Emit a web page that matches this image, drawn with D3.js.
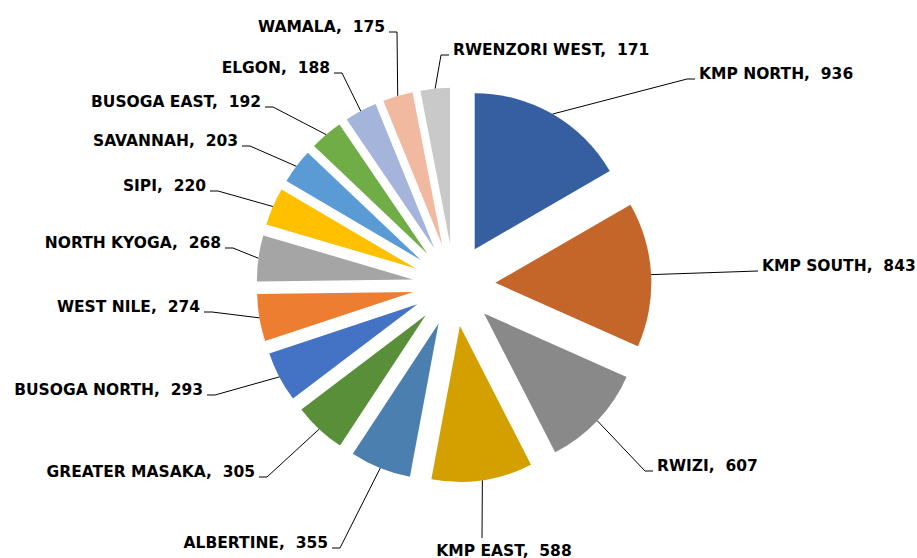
<!DOCTYPE html>
<html>
<head>
<meta charset="utf-8">
<script src="https://cdn.jsdelivr.net/npm/d3@7/dist/d3.min.js"></script>
<style>
  html, body { margin: 0; padding: 0; background: #ffffff; }
  svg { display: block; }
  text { font-family: "DejaVu Sans", Verdana, sans-serif; font-weight: bold; font-size: 15.5px; fill: #000; white-space: pre; }
</style>
</head>
<body>
<svg id="chart" width="917" height="558"></svg>
<script>
// ---- data ----
const categories = ["KMP NORTH", "KMP SOUTH", "RWIZI", "KMP EAST", "ALBERTINE", "GREATER MASAKA",
  "BUSOGA NORTH", "WEST NILE", "NORTH KYOGA", "SIPI", "SAVANNAH", "BUSOGA EAST", "ELGON", "WAMALA", "RWENZORI WEST"];
const values = [936, 843, 607, 588, 355, 305, 293, 274, 268, 220, 203, 192, 188, 175, 171];
const colors = ["#365FA2", "#C4652A", "#898989", "#D3A000", "#4A7FB0", "#5A8F3A",
  "#4472C4", "#ED7D31", "#A5A5A5", "#FFC000", "#5B9BD5", "#70AD47", "#A5B4DA", "#F2B9A1", "#C9C9C9"];

// ---- layout (label leader elbows, side) ----
const labelLayout = [
  {ex: 687, ey: 79, side: "right"},
  {ex: 758, ey: 271, side: "right", noTick: true},
  {ex: 645, ey: 471, side: "right"},
  {ex: 482, ey: 538, side: "below"},
  {ex: 340, ey: 548, side: "left"},
  {ex: 267, ey: 477, side: "left"},
  {ex: 215, ey: 395, side: "left"},
  {ex: 212, ey: 312, side: "left"},
  {ex: 233, ey: 248, side: "left"},
  {ex: 218, ey: 191, side: "left"},
  {ex: 250, ey: 146, side: "left"},
  {ex: 273, ey: 107, side: "left"},
  {ex: 342, ey: 73, side: "left"},
  {ex: 397, ey: 32, side: "left"},
  {ex: 441, ey: 55, side: "right"}
];

const cx = 454, cy = 285, radius = 156, explode = 41.4;

const svg = d3.select("#chart");
const data = categories.map((c, i) => ({name: c, value: values[i], color: colors[i], lay: labelLayout[i]}));

const pie = d3.pie().sort(null).value(d => d.value);
const arcs = pie(data);
const arcGen = d3.arc().innerRadius(0).outerRadius(radius);

const g = svg.append("g").attr("transform", `translate(${cx},${cy})`);

arcs.forEach(a => {
  const mid = (a.startAngle + a.endAngle) / 2;
  a.dx = explode * Math.sin(mid);
  a.dy = -explode * Math.cos(mid);
  a.mx = cx + a.dx + radius * Math.sin(mid);
  a.my = cy + a.dy - radius * Math.cos(mid);
});

g.selectAll("path.slice").data(arcs).join("path")
  .attr("class", "slice")
  .attr("d", arcGen)
  .attr("transform", d => `translate(${d.dx},${d.dy})`)
  .attr("fill", d => d.data.color);

// leader lines and labels
const lg = svg.append("g");
arcs.forEach(a => {
  const L = a.data.lay;
  const pts = [[a.mx, a.my], [L.ex, L.ey]];
  let tx, ty, anchor;
  if (L.side === "right") {
    if (!L.noTick) pts.push([L.ex + 8, L.ey]);
    tx = pts[pts.length - 1][0] + 4; ty = L.ey; anchor = "start";
  } else if (L.side === "left") {
    pts.push([L.ex - 8, L.ey]);
    tx = L.ex - 8 - 4; ty = L.ey; anchor = "end";
  } else {
    tx = L.ex + 22; ty = L.ey + 18; anchor = "middle";
  }
  lg.append("path")
    .attr("d", d3.line()(pts))
    .attr("fill", "none")
    .attr("stroke", "#000")
    .attr("stroke-width", 1);
  lg.append("text")
    .attr("x", tx).attr("y", ty)
    .attr("text-anchor", anchor)
    .text(`${a.data.name},  ${a.data.value}`);
});
</script>
</body>
</html>
